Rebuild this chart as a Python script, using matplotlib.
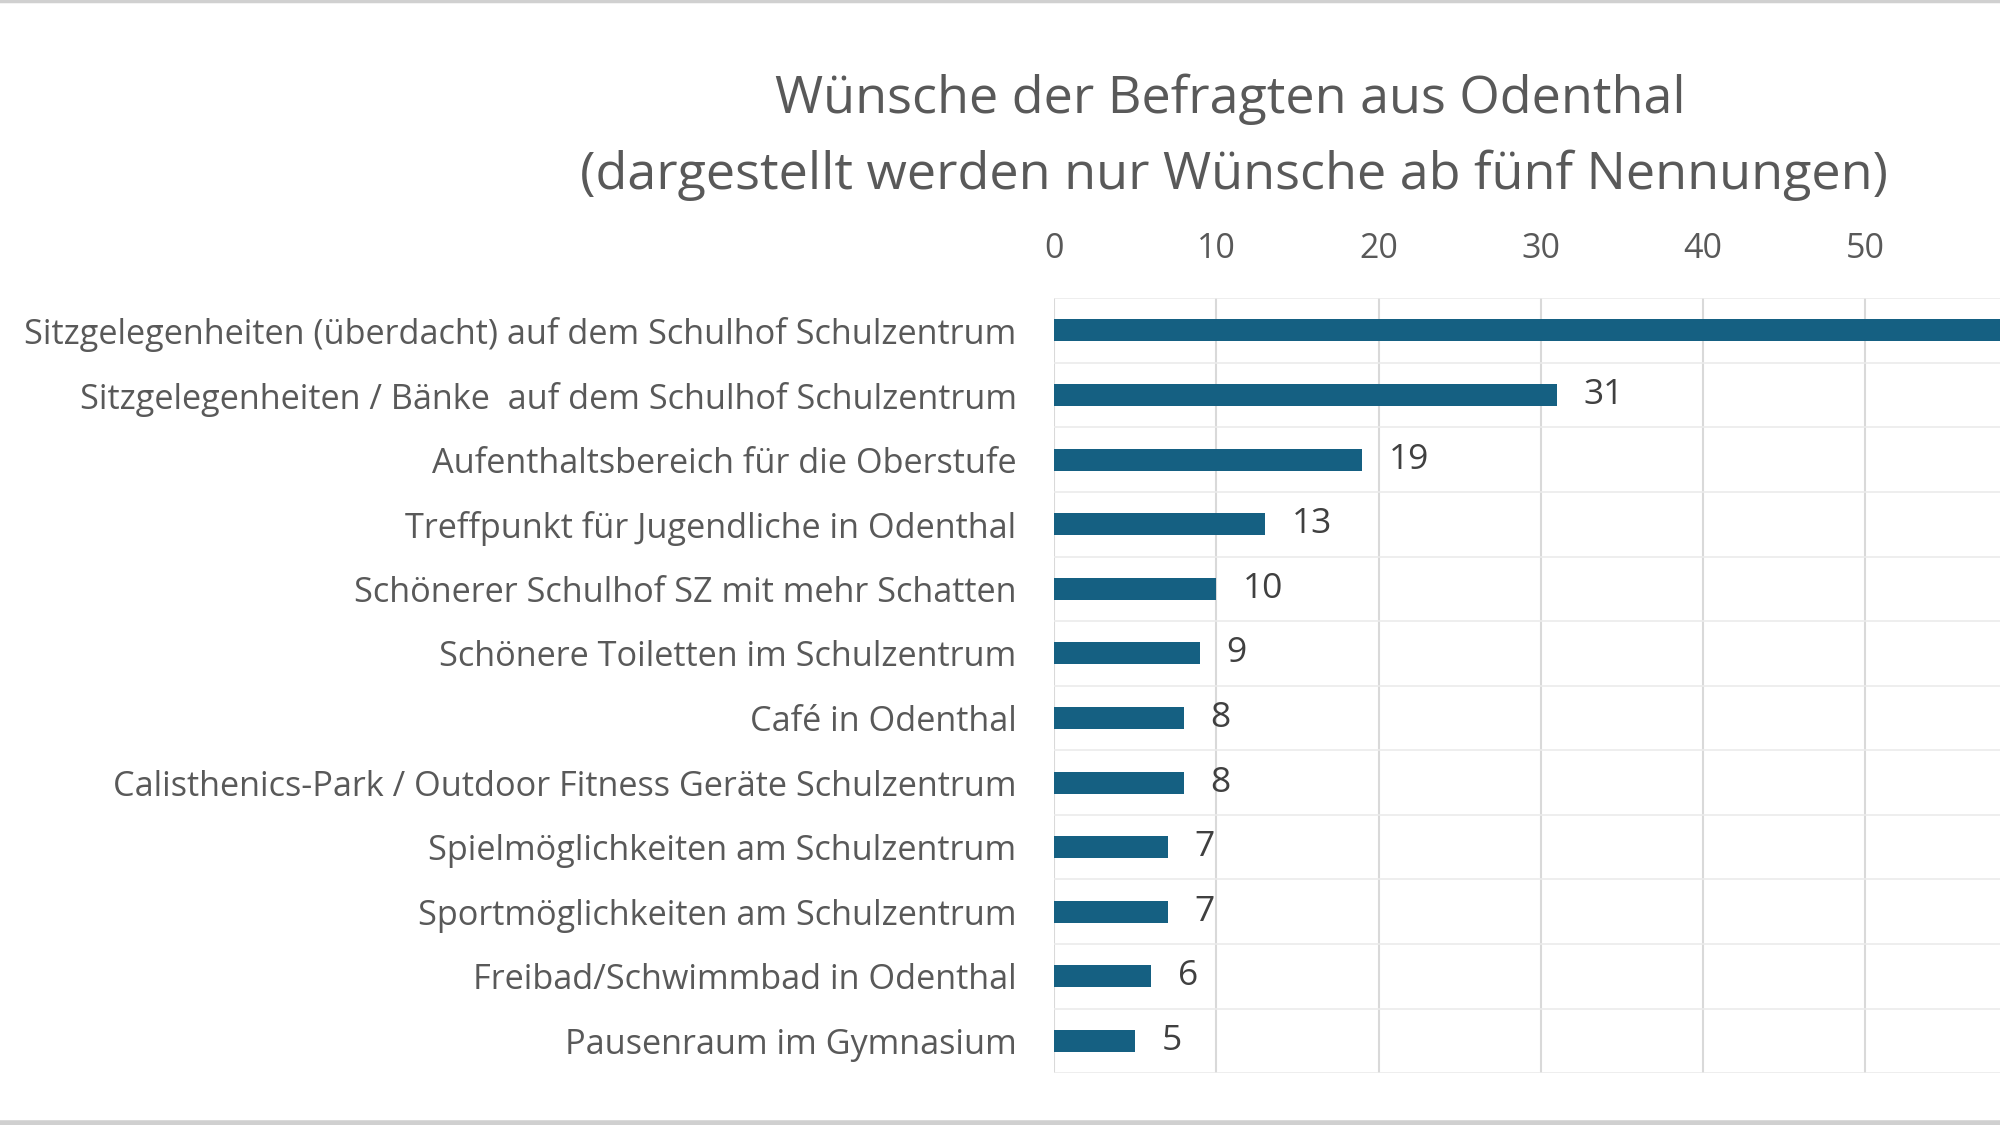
import numpy as np
import matplotlib.pyplot as plt
from matplotlib.lines import Line2D

# Daten der Umfrage (Anzahl Nennungen)
wuensche = [
    'Sitzgelegenheiten (überdacht) auf dem Schulhof Schulzentrum',
    'Sitzgelegenheiten / Bänke  auf dem Schulhof Schulzentrum',
    'Aufenthaltsbereich für die Oberstufe',
    'Treffpunkt für Jugendliche in Odenthal',
    'Schönerer Schulhof SZ mit mehr Schatten',
    'Schönere Toiletten im Schulzentrum',
    'Café in Odenthal',
    'Calisthenics-Park / Outdoor Fitness Geräte Schulzentrum',
    'Spielmöglichkeiten am Schulzentrum',
    'Sportmöglichkeiten am Schulzentrum',
    'Freibad/Schwimmbad in Odenthal',
    'Pausenraum im Gymnasium',
]
nennungen = [62, 31, 19, 13, 10, 9, 8, 8, 7, 7, 6, 5]
x_ticks = [0, 10, 20, 30, 40, 50, 60]

titel_1 = 'Wünsche der Befragten aus Odenthal'
titel_2 = '(dargestellt werden nur Wünsche ab fünf Nennungen)'

plt.rcParams['font.family'] = ['Open Sans', 'DejaVu Sans']
grau = '#595959'
blau = '#156082'

fig = plt.figure(figsize=(20, 11.25), dpi=100)
ax = fig.add_axes([0.527, 0.046, 0.473, 0.689])

pos = np.arange(len(wuensche))
balken = ax.barh(pos, nennungen, height=0.34, color=blau, zorder=3)
ax.bar_label(balken, labels=[str(n) for n in nennungen], padding=19,
             fontsize=25.5, color='#404040', clip_on=True)

ax.set_yticks(pos)
ax.set_yticklabels(wuensche, fontsize=24.7, color=grau)
ax.set_xticks(x_ticks)
ax.set_xticklabels([str(t) for t in x_ticks], fontsize=24.5, color=grau)
ax.set_ylim(len(wuensche) - 0.5, -0.5)
ax.set_xlim(0, 58.3)
ax.xaxis.tick_top()
ax.tick_params(axis='both', length=0)
ax.tick_params(axis='y', pad=27)
ax.tick_params(axis='x', pad=23)

# Gitternetz
ax.set_yticks(np.arange(-0.5, len(wuensche), 0.5), minor=True)
ax.tick_params(axis='y', which='minor', length=0)
ax.grid(axis='x', color='#D9D9D9', linewidth=1.5, zorder=0)
ax.grid(axis='y', which='minor', color='#EBEBEB', linewidth=1.2, zorder=0)
for s in ax.spines.values():
    s.set_visible(False)

fig.text(0.615, 0.912, titel_1, ha='center', va='center', fontsize=37.5, color=grau)
fig.text(0.617, 0.844, titel_2, ha='center', va='center', fontsize=37.5, color=grau)

# Rahmenlinien oben und unten
fig.add_artist(Line2D([0, 1], [0.999, 0.999], color='#D0D0D0', linewidth=2.5))
fig.add_artist(Line2D([0, 1], [0.002, 0.002], color='#D0D0D0', linewidth=4))

fig.savefig('out.png', dpi=100)
